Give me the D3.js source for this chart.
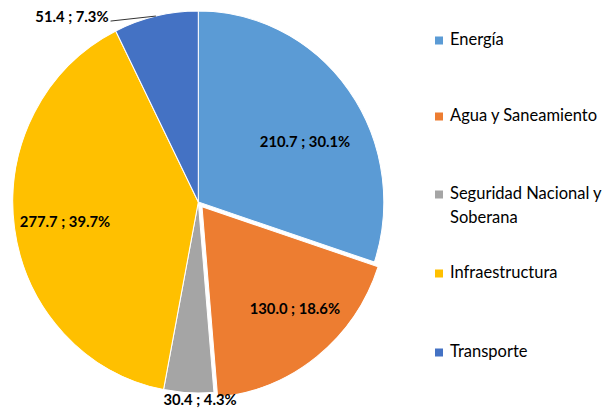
<!DOCTYPE html>
<html><head><meta charset="utf-8">
<script src="https://cdn.jsdelivr.net/npm/d3@7"></script>
<style>html,body{margin:0;padding:0;background:#fff;}svg{display:block;}</style>
</head><body>
<script>
const categories = ["Energía", "Agua y Saneamiento", "Seguridad Nacional y Soberana", "Infraestructura", "Transporte"];
const legendLines = [["Energía"], ["Agua y Saneamiento"], ["Seguridad Nacional y", "Soberana"], ["Infraestructura"], ["Transporte"]];
const values = [210.7, 130.0, 30.4, 277.7, 51.4];
const colors = ["#5B9BD5", "#ED7D31", "#A5A5A5", "#FFC000", "#4472C4"];
const explode = [0, 6, 0, 0, 0];
// label placement (angle in degrees clockwise from top, distance from centre)
const labelPos = [{a:60.2,r:123},{a:137.7,r:143.5},{a:179.5,r:197},{a:261.9,r:134.6},{a:325.8,r:224.8}];

const W = 604, H = 408;
const cx = 198.3, cy = 202, rx = 185.5, ry = 191;
const svg = d3.select("body").append("svg").attr("width", W).attr("height", H);
const total = d3.sum(values);
const pie = d3.pie().sort(null).value(d => d)(values);
const arc = d3.arc().innerRadius(0).outerRadius(rx);

const g = svg.append("g").attr("transform", `translate(${cx},${cy}) scale(1,${ry/rx})`);
g.selectAll("path").data(pie).join("path")
  .attr("d", arc)
  .attr("fill", (d,i) => colors[i])
  .attr("stroke", "#fff").attr("stroke-width", 1)
  .attr("transform", (d,i) => {
    const m = (d.startAngle + d.endAngle)/2;
    return `translate(${Math.sin(m)*explode[i]},${-Math.cos(m)*explode[i]*rx/ry})`;
  });

const fmtV = d3.format(".1f"), fmtP = d3.format(".1%");
const lab = svg.append("g").attr("font-family", "Lato, 'Open Sans', sans-serif").attr("font-weight", "bold").attr("font-size", 14.8).attr("fill", "#000");
pie.forEach((d,i) => {
  const a = labelPos[i].a * Math.PI/180, r = labelPos[i].r;
  const x = cx + Math.sin(a)*r, y = cy - Math.cos(a)*r;
  const t = lab.append("text").attr("x", x).attr("y", y).attr("text-anchor", "middle").attr("dominant-baseline", "central")
    .text(`${fmtV(values[i])} ; ${fmtP(values[i]/total)}`);
  if (i === 4) {
    const m = (d.startAngle + d.endAngle)/2;
    const bb = t.node().getBBox();
    svg.append("line")
      .attr("x1", bb.x + bb.width + 2).attr("y1", y + 5)
      .attr("x2", cx + Math.sin(m)*rx).attr("y2", cy - Math.cos(m)*ry)
      .attr("stroke", "#000").attr("stroke-width", 0.8);
  }
});

// legend
const legY = [45, 121, 199, 278, 357];
const leg = svg.append("g").attr("font-family", "Lato, 'Open Sans', sans-serif").attr("font-size", 16.5).attr("fill", "#000");
categories.forEach((c,i) => {
  leg.append("rect").attr("x", 435).attr("y", legY[i]-8.5).attr("width", 8).attr("height", 8).attr("fill", colors[i]);
  legendLines[i].forEach((ln,j) => {
    leg.append("text").attr("x", 450).attr("y", legY[i] + j*23.5).text(ln);
  });
});
</script>
</body></html>
